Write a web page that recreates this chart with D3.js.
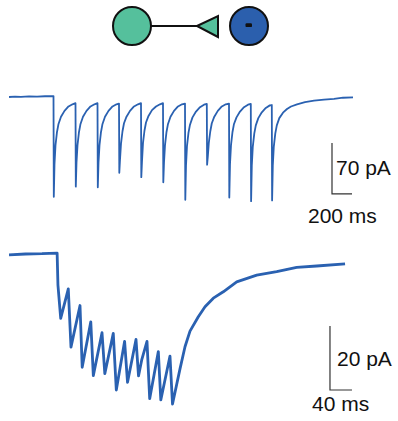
<!DOCTYPE html>
<html>
<head>
<meta charset="utf-8">
<script src="https://cdn.jsdelivr.net/npm/d3@7"></script>
<style>
  html, body { margin: 0; padding: 0; background: #ffffff; }
  svg { display: block; }
  text { font-family: "Liberation Sans", Arial, sans-serif; }
</style>
</head>
<body>
<svg id="chart" width="398" height="421"></svg>
<script>
// ---------------- DATA ----------------
// Top sweep (5 Hz train): [time ms, current pA]
const topTrace = [
  [0,0],[60,0.6],[120,0.2],[200,0.8],[280,0.4],[360,1.0],[445,1.2],
  [448,-137],[455,-92],[465,-66],[480,-48],[495,-37],[520,-27],[555,-19],[595,-13],[635,-10],
  [665,-8.5],[668,-123],[675,-90],[685,-66],[700,-48],[715,-37],[740,-27],[775,-19],[815,-13],[855,-10],
  [885,-8.5],[888,-124],[895,-90],[905,-66],[920,-48],[935,-37],[960,-27],[995,-19],[1035,-13],[1075,-10],
  [1100,-9],[1103,-104],[1110,-86],[1120,-64],[1135,-47],[1150,-36],[1175,-27],[1210,-19],[1250,-13],[1290,-10],
  [1320,-8.5],[1323,-110],[1330,-88],[1340,-63],[1355,-46],[1370,-35],[1395,-26],[1430,-18],[1470,-13],[1510,-10],
  [1540,-8.5],[1543,-117],[1550,-90],[1560,-66],[1575,-48],[1590,-37],[1615,-27],[1650,-19],[1690,-13],[1730,-10],
  [1760,-9],[1763,-141],[1770,-94],[1780,-67],[1795,-49],[1810,-38],[1835,-28],[1870,-20],[1910,-14],[1950,-10.5],
  [1978,-9.5],[1981,-93],[1988,-82],[1998,-63],[2013,-47],[2028,-36],[2053,-27],[2088,-19],[2128,-13],[2168,-10],
  [2200,-9],[2203,-138],[2210,-92],[2220,-66],[2235,-48],[2250,-37],[2275,-28],[2310,-20],[2350,-14],[2390,-10.5],
  [2418,-9.5],[2421,-143],[2428,-94],[2438,-68],[2453,-50],[2468,-39],[2493,-29],[2528,-21],[2568,-15],[2608,-11.5],
  [2628,-11],[2631,-142],[2638,-94],[2648,-68],[2663,-50],[2678,-39],[2703,-29],[2740,-21.5],[2780,-16.5],[2820,-13],
  [2880,-10],[2960,-7],[3050,-5],[3150,-3.5],[3250,-2.5],[3340,-1],[3440,-0.5]
];

// Bottom sweep (50 Hz train): [time ms, current pA]
const bottomTrace = [
  [0,-0.3],[30,0],[60,0.1],[87.5,0.3],[89,-9.7],[94,-20.1],[107.8,-10.9],[112.7,-29.1],
  [129.1,-16.1],[133.1,-35.4],[148.7,-21.2],[153.3,-38],[169.1,-24.6],[174.2,-37.4],
  [189.6,-24.8],[195.1,-42.5],[210.2,-27.3],[215.5,-40.1],[230.9,-26.7],[235.5,-38.1],
  [241.3,-33.1],[250.9,-27.3],[255.8,-45.2],[271.5,-30.5],[276,-45.6],[292.7,-31.9],
  [297.3,-46.9],[310.9,-35.9],[320,-29],[329.1,-24.1],[344.2,-19.6],[356.4,-16.5],
  [371.5,-13.8],[389.6,-11.8],[414,-8.7],[450.4,-6.6],[486.7,-5.5],[523.1,-4.2],
  [559.5,-3.75],[611,-3.1]
];

// Scale bars: [ms, pA]
const topScaleBar = [200, 70];
const bottomScaleBar = [40, 20];
const topScaleLabels = ["200 ms", "70 pA"];
const bottomScaleLabels = ["40 ms", "20 pA"];

// ---------------- DRAW ----------------
const svg = d3.select("#chart");
const traceColor = "#2a61b1";

// schematic
const g0 = svg.append("g");
g0.append("line").attr("x1", 150).attr("y1", 26).attr("x2", 198).attr("y2", 26)
  .attr("stroke", "#111").attr("stroke-width", 2);
g0.append("circle").attr("cx", 132).attr("cy", 26).attr("r", 19)
  .attr("fill", "#55c09c").attr("stroke", "#111").attr("stroke-width", 2);
g0.append("path").attr("d", "M197,26 L218,16 L218,37 Z")
  .attr("fill", "#55c09c").attr("stroke", "#111").attr("stroke-width", 2).attr("stroke-linejoin", "miter");
g0.append("circle").attr("cx", 249).attr("cy", 26).attr("r", 19)
  .attr("fill", "#2b5fad").attr("stroke", "#111").attr("stroke-width", 2);
g0.append("rect").attr("x", 245.5).attr("y", 23.3).attr("width", 6.5).attr("height", 3.8).attr("rx", 1.2)
  .attr("fill", "#111");

// top panel scales
const xTop = d3.scaleLinear().domain([0, 3440]).range([9, 353]);
const yTop = d3.scaleLinear().domain([0, -140]).range([97, 97 + 140 * 51 / 70]);

svg.append("path").datum(topTrace)
  .attr("d", d3.line().x(d => xTop(d[0])).y(d => yTop(d[1])))
  .attr("fill", "none").attr("stroke", traceColor).attr("stroke-width", 1.8)
  .attr("stroke-linejoin", "round");

// top scale bar
const tb0 = 3230, tbY = -133.1;
svg.append("path")
  .attr("d", `M${xTop(tb0)},${yTop(tbY + topScaleBar[1])} L${xTop(tb0)},${yTop(tbY)} L${xTop(tb0 + topScaleBar[0])},${yTop(tbY)}`)
  .attr("fill", "none").attr("stroke", "#333").attr("stroke-width", 1.2);
svg.append("text").attr("x", 336).attr("y", 175).attr("font-size", 21).attr("fill", "#111").text(topScaleLabels[1]);
svg.append("text").attr("x", 308).attr("y", 223).attr("font-size", 21).attr("fill", "#111").text(topScaleLabels[0]);

// bottom panel scales
const xBot = d3.scaleLinear().domain([0, 611]).range([9, 9 + 611 * 0.55]);
const yBot = d3.scaleLinear().domain([0, -50]).range([254, 254 + 50 * 3.2]);

svg.append("path").datum(bottomTrace)
  .attr("d", d3.line().x(d => xBot(d[0])).y(d => yBot(d[1])))
  .attr("fill", "none").attr("stroke", traceColor).attr("stroke-width", 2.8)
  .attr("stroke-linejoin", "round");

const bb0 = 583.6, bbY = -42.5;
svg.append("path")
  .attr("d", `M${xBot(bb0)},${yBot(bbY + bottomScaleBar[1])} L${xBot(bb0)},${yBot(bbY)} L${xBot(bb0 + bottomScaleBar[0])},${yBot(bbY)}`)
  .attr("fill", "none").attr("stroke", "#333").attr("stroke-width", 1.2);
svg.append("text").attr("x", 337).attr("y", 366).attr("font-size", 21).attr("fill", "#111").text(bottomScaleLabels[1]);
svg.append("text").attr("x", 312).attr("y", 411).attr("font-size", 21).attr("fill", "#111").text(bottomScaleLabels[0]);
</script>
</body>
</html>
